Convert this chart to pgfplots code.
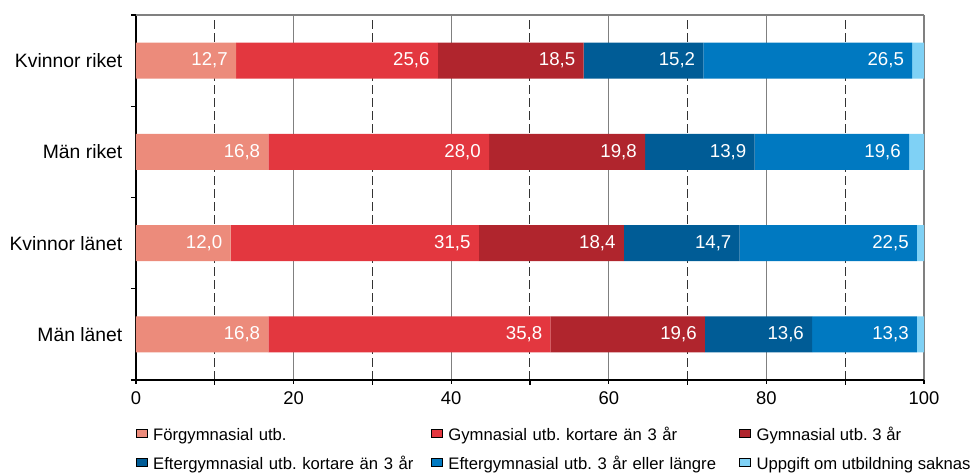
\documentclass[border=0pt]{standalone}
\usepackage{fontspec}
\setmainfont{Liberation Sans}
\usepackage{pgfplots}
\pgfplotsset{compat=1.18}
\definecolor{c1}{HTML}{EC8B7B}
\definecolor{c2}{HTML}{E3373F}
\definecolor{c3}{HTML}{B0252D}
\definecolor{c4}{HTML}{005C96}
\definecolor{c5}{HTML}{0079C1}
\definecolor{c6}{HTML}{7FD1F5}
\definecolor{gridgray}{HTML}{808080}
\pgfplotsset{
  legend image code/.code={\fill[#1] (0pt,-3.75pt) rectangle (7.5pt,3.75pt);},
}
\newcommand{\lblfmt}{\pgfmathprintnumber[fixed,fixed zerofill,precision=1,use comma]{\pgfplotspointmeta}}
\frenchspacing
\begin{document}
\begin{tikzpicture}
\begin{axis}[
  scale only axis,
  width=591pt, height=273.75pt,
  xbar stacked, bar width=27pt,
  xmin=0, xmax=100, ymin=-0.5, ymax=3.5,
  axis x line*=bottom, axis y line*=left,
  axis line style={black, line width=0.8pt},
  xtick={0,20,40,60,80,100},
  minor xtick={10,30,50,70,90},
  xmajorgrids, xminorgrids,
  major grid style={gridgray, line width=0.8pt},
  minor grid style={black!80, line width=0.75pt, dash pattern=on 6.75pt off 3pt},
  ytick={0,1,2,3},
  yticklabels={Män länet,Kvinnor länet,Män riket,Kvinnor riket},
  minor ytick={-0.5,0.5,1.5,2.5,3.5},
  every major y tick/.append style={draw=none},
  tick align=outside,
  major tick length=3pt, minor tick length=3.75pt,
  tick style={black, line width=0.8pt},
  /pgf/number format/assume math mode=true,
  xticklabel style={font=\fontsize{13.8}{16}\selectfont, inner sep=0pt, text height=10pt, text depth=0pt, yshift=-5pt},
  yticklabel style={font=\fontsize{14.5}{17}\selectfont, inner sep=0pt, xshift=-7pt},
  visualization depends on={rawx \as \rawx},
  every node near coord/.append style={anchor=east, text=white, font=\fontsize{14}{16}\selectfont, inner sep=0pt, xshift=\rawx*2.955pt-6pt},
  legend columns=3,
  legend style={draw=none, inner sep=0pt, outer sep=0pt,
    at={(axis description cs:0,-0.133)}, anchor=north west,
    font=\fontsize{12.5}{15}\selectfont,
    nodes={inner sep=0pt, text height=9pt, text depth=0pt, anchor=west},
    row sep=12.75pt, column sep=0pt,
    /tikz/every odd column/.append style={column sep=4.5pt}},
  legend cell align=left,
]
\addplot[fill=c1, draw=none, nodes near coords=\lblfmt] coordinates {(16.8,0) (12.0,1) (16.8,2) (12.7,3)};
\addlegendentry[text width=208.5pt]{Förgymnasial utb.}
\addplot[fill=c2, draw=none, nodes near coords=\lblfmt] coordinates {(35.8,0) (31.5,1) (28.0,2) (25.6,3)};
\addlegendentry[text width=218.25pt]{Gymnasial utb. kortare än 3 år}
\addplot[fill=c3, draw=none, nodes near coords=\lblfmt] coordinates {(19.6,0) (18.4,1) (19.8,2) (18.5,3)};
\addlegendentry{Gymnasial utb. 3 år}
\addplot[fill=c4, draw=none, nodes near coords=\lblfmt] coordinates {(13.6,0) (14.7,1) (13.9,2) (15.2,3)};
\addlegendentry[text width=208.5pt]{Eftergymnasial utb. kortare än 3 år}
\addplot[fill=c5, draw=none, nodes near coords=\lblfmt] coordinates {(13.3,0) (22.5,1) (19.6,2) (26.5,3)};
\addlegendentry[text width=218.25pt]{Eftergymnasial utb. 3 år eller längre}
\addplot[fill=c6, draw=none] coordinates {(0.9,0) (0.9,1) (1.9,2) (1.5,3)};
\addlegendentry{Uppgift om utbildning saknas}
\draw[gridgray, line width=0.8pt] (rel axis cs:0,1) -- (rel axis cs:1,1);
\coordinate (O) at (rel axis cs:0,0);
\end{axis}
\pgfresetboundingbox
\path[use as bounding box] ([shift={(-102pt,-69.75pt)}]O) rectangle ([shift={(627pt,285pt)}]O);
\end{tikzpicture}
\end{document}
